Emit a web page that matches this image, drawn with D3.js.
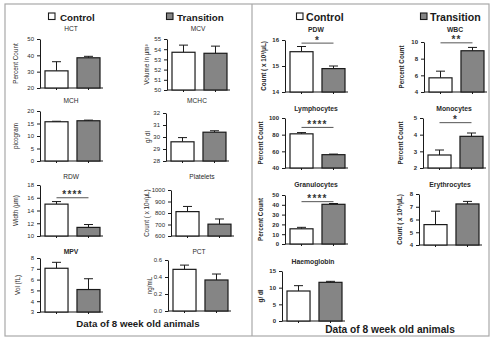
<!DOCTYPE html>
<html>
<head>
<meta charset="utf-8">
<script src="https://cdn.jsdelivr.net/npm/d3@7"></script>
<style>
  body { margin: 0; background: #fff; }
  svg { display: block; font-family: "Liberation Sans", Arial, sans-serif; }
</style>
</head>
<body>
<svg id="chart" width="496" height="346"></svg>
<script>
// Haematology parameters of 8 week old animals: Control vs Transition (mean + SEM)
const panels = ["HCT", "MCV", "MCH", "MCHC", "RDW", "Platelets", "MPV", "PCT",
                "PDW", "WBC", "Lymphocytes", "Monocytes", "Granulocytes", "Erythrocytes", "Haemoglobin"];
const groups = ["Control", "Transition"];
const controlMean    = [30.5, 53.7, 15.7, 29.6, 15.0, 812, 7.05, 0.49, 15.55, 5.7, 81.0, 2.78, 15.5, 5.6, 9.0];
const controlErr     = [5.6, 0.7, 0.2, 0.35, 0.4, 45, 0.55, 0.05, 0.2, 0.8, 1.5, 0.3, 1.5, 1.05, 1.6];
const transitionMean = [38.5, 53.6, 16.1, 30.4, 11.35, 703, 5.08, 0.365, 14.9, 8.95, 56.0, 3.9, 40.5, 7.22, 11.6];
const transitionErr  = [0.9, 0.7, 0.25, 0.12, 0.45, 45, 1.0, 0.07, 0.1, 0.4, 0.7, 0.2, 0.8, 0.2, 0.3];
const yLabels = ["Percent Count", "Volume in \u03bcm\u00b3", "picogram", "g/ dl", "Width (\u03bcm)",
                 "Count ( x 10\u00b3/\u03bcL)", "Vol (fL)", "ng/mL", "Count ( x 10\u00b3/\u03bcL)",
                 "Percent Count", "Percent Count", "Percent Count", "Percent Count",
                 "Count ( x 10\u2076/\u03bcL)", "g/ dl"];
const yTicks = [[20, 30, 40, 50], [50, 51, 52, 53, 54, 55], [0, 5, 10, 15, 20], [28, 29, 30, 31, 32],
                [10, 12, 14, 16, 18], [600, 700, 800, 900, 1000], [3, 4, 5, 6, 7, 8], [0, 0.2, 0.4, 0.6],
                [14, 15, 16], [4, 6, 8, 10], [40, 60, 80, 100], [2, 3, 4, 5], [0, 10, 20, 30, 40, 50],
                [4, 5, 6, 7, 8], [0, 5, 10, 15]];
// significance brackets
const sigPanels = ["RDW", "PDW", "WBC", "Lymphocytes", "Monocytes", "Granulocytes"];
const sigStars  = ["****", "*", "**", "****", "*", "****"];
const sigLevels = [16.0, 15.88, 9.9, 88.7, 4.72, 43.2];
const footerText = "Data of 8 week old animals";

// panel frames: axis x, plot top/bottom, title y, y-label x, bold title, right-hand figure
const frames = {
  HCT:          { x: 40,  top: 39,  bottom: 88,  ty: 28,  lx: 18,  bold: false, right: false },
  MCV:          { x: 167, top: 39,  bottom: 90,  ty: 28,  lx: 149, bold: false, right: false },
  MCH:          { x: 40,  top: 111, bottom: 161, ty: 100, lx: 18,  bold: false, right: false },
  MCHC:         { x: 166, top: 113, bottom: 161, ty: 100, lx: 150, bold: false, right: false },
  RDW:          { x: 40,  top: 185, bottom: 236, ty: 176, lx: 18,  bold: false, right: false },
  Platelets:    { x: 171, top: 190, bottom: 236, ty: 176, lx: 149, bold: false, right: false },
  MPV:          { x: 40,  top: 258, bottom: 312, ty: 251, lx: 20,  bold: true,  right: false },
  PCT:          { x: 168, top: 260, bottom: 311, ty: 251, lx: 152, bold: false, right: false },
  PDW:          { x: 285, top: 40,  bottom: 92,  ty: 29,  lx: 266, bold: true,  right: true },
  WBC:          { x: 424, top: 42,  bottom: 92,  ty: 29,  lx: 404, bold: true,  right: true },
  Lymphocytes:  { x: 285, top: 118, bottom: 168, ty: 108, lx: 263, bold: true,  right: true },
  Monocytes:    { x: 423, top: 118, bottom: 168, ty: 108, lx: 403, bold: true,  right: true },
  Granulocytes: { x: 285, top: 195, bottom: 244, ty: 184, lx: 263, bold: true,  right: true },
  Erythrocytes: { x: 419, top: 194, bottom: 245, ty: 184, lx: 402, bold: true,  right: true },
  Haemoglobin:  { x: 282, top: 271, bottom: 321, ty: 261, lx: 263, bold: true,  right: true }
};

const svg = d3.select("#chart");
const colors = { Control: "#ffffff", Transition: "#858585" };
const ink = "#1a1a1a";

// outer frame and divider
svg.append("rect").attr("x", 5).attr("y", 4).attr("width", 484).attr("height", 332)
  .attr("fill", "none").attr("stroke", "#a8a8a8").attr("stroke-width", 1.2);
svg.append("line").attr("x1", 252).attr("x2", 252).attr("y1", 4).attr("y2", 336)
  .attr("stroke", "#a8a8a8").attr("stroke-width", 1.2);

// legends
function legend(items, size) {
  items.forEach(it => {
    svg.append("rect").attr("x", it.x).attr("y", 13).attr("width", 6.5).attr("height", 6.5)
      .attr("fill", colors[it.g]).attr("stroke", ink).attr("stroke-width", 1.1);
    svg.append("text").attr("x", it.x + it.dx).attr("y", 20.5).text(it.g)
      .attr("font-size", size).attr("font-weight", "bold").attr("fill", ink);
  });
}
legend([{ g: "Control", x: 48.5, dx: 11.5 }, { g: "Transition", x: 166.5, dx: 10.5 }], 9.8);
legend([{ g: "Control", x: 296.5, dx: 9.5 }, { g: "Transition", x: 420.5, dx: 9.5 }], 10.6);

// footers
svg.append("text").attr("x", 138).attr("y", 326.5).attr("text-anchor", "middle")
  .attr("font-size", 9.7).attr("font-weight", "bold").attr("fill", ink).text(footerText);
svg.append("text").attr("x", 390).attr("y", 332.5).attr("text-anchor", "middle")
  .attr("font-size", 10.2).attr("font-weight", "bold").attr("fill", ink).text(footerText);

panels.forEach((name, i) => {
  const f = frames[name];
  const g = svg.append("g");
  const ticks = yTicks[i];
  const y = d3.scaleLinear().domain(d3.extent(ticks)).range([f.bottom, f.top]);
  const x = d3.scaleBand().domain(groups).range([f.x + 5, f.x + 60]).paddingInner(0.28);
  const bw = x.bandwidth();
  const fmt = name === "PCT" ? d3.format(".1f") : d3.format("d");

  // title
  g.append("text").attr("x", f.x + 31).attr("y", f.ty + 2.5).attr("text-anchor", "middle")
    .attr("font-size", f.bold ? 6.8 : 6.6).attr("font-weight", f.bold ? "bold" : "normal")
    .attr("fill", "#2a2a2a").text(name);

  // y axis
  const ya = g.append("g").attr("transform", `translate(${f.x},0)`)
    .call(d3.axisLeft(y).tickValues(ticks).tickFormat(fmt).tickSize(3).tickSizeOuter(0).tickPadding(3));
  ya.selectAll("path, line").attr("stroke", ink).attr("stroke-width", 1);
  ya.selectAll("text").attr("font-size", 6).attr("fill", "#2a2a2a")
    .attr("font-weight", f.right ? "bold" : "normal").attr("font-family", "Liberation Sans, Arial");

  // x axis: baseline with small ticks under each bar
  g.append("line").attr("x1", f.x).attr("x2", f.x + 63).attr("y1", f.bottom).attr("y2", f.bottom)
    .attr("stroke", ink).attr("stroke-width", 1);
  const xa = g.append("g").attr("transform", `translate(0,${f.bottom})`)
    .call(d3.axisBottom(x).tickSize(2).tickFormat(""));
  xa.select(".domain").remove();
  xa.selectAll("line").attr("stroke", ink);

  // y label
  g.append("text").attr("transform", `translate(${f.lx},${(f.top + f.bottom) / 2}) rotate(-90)`)
    .attr("text-anchor", "middle").attr("font-size", 6.3).attr("fill", "#2a2a2a")
    .attr("font-weight", f.right ? "bold" : "normal").text(yLabels[i]);

  const means = [controlMean[i], transitionMean[i]];
  const errs = [controlErr[i], transitionErr[i]];
  groups.forEach((grp, k) => {
    const cx = x(grp) + bw / 2;
    // error bar (upper whisker only)
    g.append("line").attr("x1", cx).attr("x2", cx).attr("y1", y(means[k])).attr("y2", y(means[k] + errs[k]))
      .attr("stroke", ink).attr("stroke-width", 1);
    g.append("line").attr("x1", cx - 4.5).attr("x2", cx + 4.5)
      .attr("y1", y(means[k] + errs[k])).attr("y2", y(means[k] + errs[k]))
      .attr("stroke", ink).attr("stroke-width", 1);
    g.append("rect").attr("x", x(grp)).attr("y", y(means[k]))
      .attr("width", bw).attr("height", f.bottom - y(means[k]))
      .attr("fill", colors[grp]).attr("stroke", ink).attr("stroke-width", 1.2);
  });

  // significance bracket
  const si = sigPanels.indexOf(name);
  if (si >= 0) {
    const x1 = x("Control") + bw / 2, x2 = x("Transition") + bw / 2;
    const ly = y(sigLevels[si]);
    g.append("line").attr("x1", x1).attr("x2", x2).attr("y1", ly).attr("y2", ly)
      .attr("stroke", "#555").attr("stroke-width", 1);
    g.append("text").attr("x", (x1 + x2) / 2).attr("y", ly + 0.5).attr("text-anchor", "middle")
      .attr("font-size", 10).attr("font-weight", "bold").attr("letter-spacing", 1.2)
      .attr("fill", "#333").text(sigStars[si]);
  }
});
</script>
</body>
</html>
